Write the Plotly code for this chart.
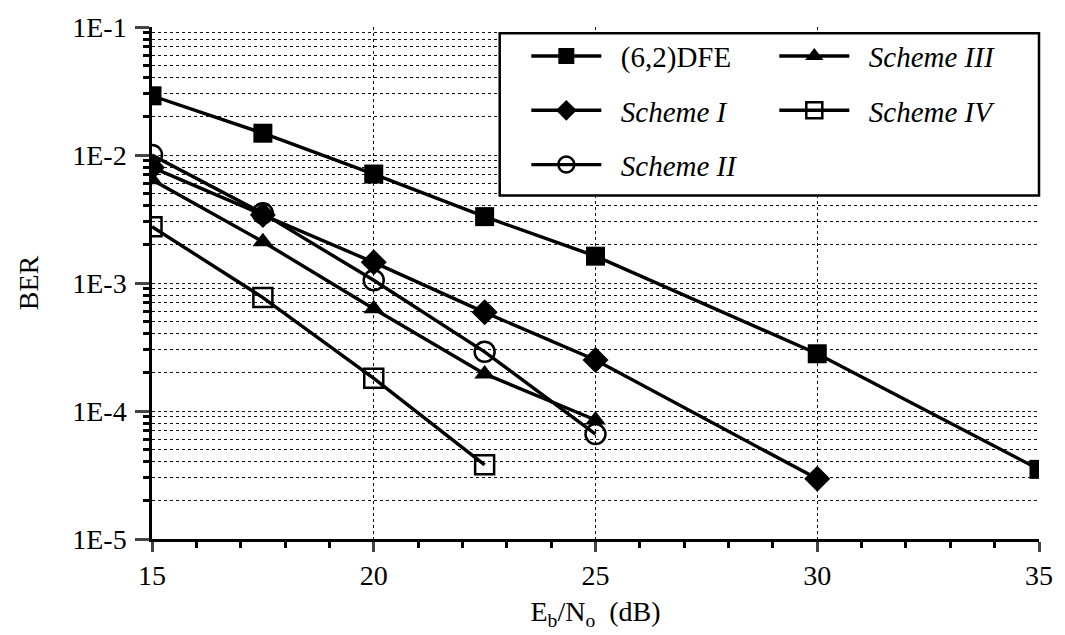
import plotly.graph_objects as go

# Eb/No points (dB)
ebno_dfe = [15, 17.5, 20, 22.5, 25, 30, 35]
ber_dfe = [2.9e-2, 1.48e-2, 7.1e-3, 3.3e-3, 1.62e-3, 2.8e-4, 3.5e-5]

ebno_s1 = [15, 17.5, 20, 22.5, 25, 30]
ber_s1 = [8.0e-3, 3.4e-3, 1.45e-3, 5.9e-4, 2.5e-4, 2.95e-5]

ebno_s2 = [15, 17.5, 20, 22.5, 25]
ber_s2 = [1.0e-2, 3.5e-3, 1.05e-3, 2.9e-4, 6.6e-5]

ebno_s3 = [15, 17.5, 20, 22.5, 25]
ber_s3 = [6.4e-3, 2.1e-3, 6.3e-4, 1.95e-4, 8.5e-5]

ebno_s4 = [15, 17.5, 20, 22.5]
ber_s4 = [2.75e-3, 7.7e-4, 1.8e-4, 3.8e-5]

x_ticks = [15, 20, 25, 30, 35]
y_tickvals = [1e-1, 1e-2, 1e-3, 1e-4, 1e-5]
y_ticktext = ["1E-1", "1E-2", "1E-3", "1E-4", "1E-5"]

FONT = "Liberation Serif"
LINE = dict(color="black", width=3.4)
GRID = "#111111"
PAD = "\u00a0\u00a0"  # small gap between legend symbol and label

fig = go.Figure()

# each legend row is its own legend so the rows can be spaced freely
fig.add_trace(go.Scatter(x=ebno_dfe, y=ber_dfe, name=PAD + "(6,2)DFE", mode="lines+markers",
                         line=LINE, legend="legend",
                         marker=dict(symbol="square", size=19, color="black")))
fig.add_trace(go.Scatter(x=ebno_s3, y=ber_s3, name=PAD + "<i>Scheme III</i>", mode="lines+markers",
                         line=LINE, legend="legend",
                         marker=dict(symbol="triangle-up", size=18, color="black")))
fig.add_trace(go.Scatter(x=ebno_s1, y=ber_s1, name=PAD + "<i>Scheme I</i>", mode="lines+markers",
                         line=LINE, legend="legend2",
                         marker=dict(symbol="diamond", size=20, color="black")))
fig.add_trace(go.Scatter(x=ebno_s4, y=ber_s4, name=PAD + "<i>Scheme IV</i>", mode="lines+markers",
                         line=LINE, legend="legend2",
                         marker=dict(symbol="square-open", size=19, color="black",
                                     line=dict(width=2.5, color="black"))))
fig.add_trace(go.Scatter(x=ebno_s2, y=ber_s2, name=PAD + "<i>Scheme II</i>", mode="lines+markers",
                         line=LINE, legend="legend3",
                         marker=dict(symbol="circle-open", size=20, color="black",
                                     line=dict(width=2.5, color="black"))))


def row_legend(y):
    return dict(
        orientation="h", x=0.422, y=y, xanchor="left", yanchor="middle",
        entrywidth=163, entrywidthmode="pixels", itemwidth=70,
        bgcolor="rgba(0,0,0,0)", borderwidth=0,
        font=dict(family=FONT, size=29, color="black"),
    )


fig.update_layout(
    width=1065, height=635,
    margin=dict(l=152, r=17, t=22, b=93),
    paper_bgcolor="white", plot_bgcolor="white",
    font=dict(family=FONT, size=27, color="black"),
    showlegend=True,
    legend=row_legend(0.943),
    legend2=row_legend(0.837),
    legend3=row_legend(0.731),
    shapes=[dict(type="rect", xref="paper", yref="paper",
                 x0=0.392, x1=1.0, y0=0.671, y1=0.988,
                 fillcolor="white", line=dict(color="black", width=2.5), layer="above")],
)

fig.update_xaxes(
    range=[15, 35], tickvals=x_ticks, ticks="outside", ticklen=10, tickwidth=2.5,
    showline=True, linecolor="black", linewidth=2.5,
    showgrid=True, gridcolor=GRID, griddash="dot", gridwidth=1.2,
    minor=dict(dtick=1, ticks="outside", ticklen=6, tickwidth=2.5, tickcolor="black", showgrid=False),
    tickfont=dict(size=28, family=FONT),
    title=dict(text="E<sub>b</sub>/N<sub>o</sub>  (dB)", font=dict(size=28, family=FONT), standoff=12),
    zeroline=False,
)

fig.update_yaxes(
    type="log", range=[-5, -1], tickvals=y_tickvals, ticktext=y_ticktext,
    ticks="outside", ticklen=14, tickwidth=2.5, ticklabelstandoff=3,
    showline=True, linecolor="black", linewidth=2.5,
    showgrid=True, gridcolor=GRID, griddash="dot", gridwidth=1.2,
    minor=dict(dtick="D1", ticks="outside", ticklen=6, tickwidth=2.5, tickcolor="black",
               showgrid=True, gridcolor=GRID, griddash="dot", gridwidth=1.2),
    tickfont=dict(size=28, family=FONT),
    title=dict(text="BER", font=dict(size=28, family=FONT), standoff=26),
    zeroline=False,
)

fig.write_html("out.html")
